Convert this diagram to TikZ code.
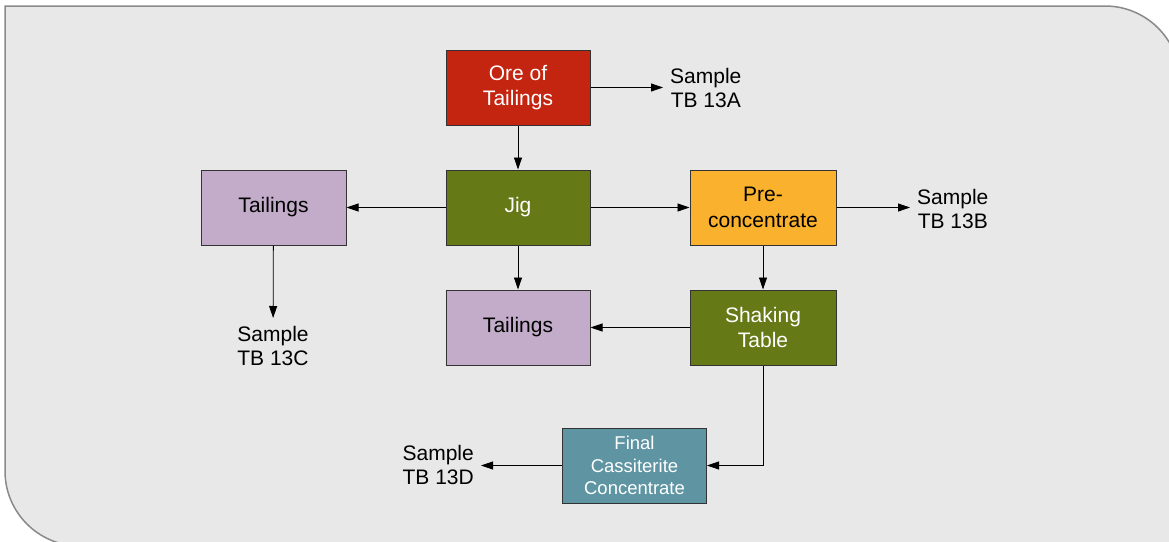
\documentclass[tikz,border=0pt]{standalone}
\usepackage{fontspec}
\setmainfont{Liberation Sans}
\usetikzlibrary{arrows.meta}
\definecolor{panelbg}{HTML}{E8E8E8}
\definecolor{panelrule}{HTML}{8A8A8A}
\definecolor{orered}{HTML}{C42510}
\definecolor{jiggreen}{HTML}{657A17}
\definecolor{lavender}{HTML}{C2ACC9}
\definecolor{amber}{HTML}{F9B12E}
\definecolor{teal}{HTML}{5F95A2}
\definecolor{edge}{HTML}{333333}
\tikzset{
  proc/.style={draw=edge, line width=1pt, minimum width=144pt, minimum height=75pt,
    align=center, font=\fontsize{21}{25.5}\selectfont, inner sep=0pt},
  label/.style={align=center, font=\fontsize{21}{24}\selectfont, inner xsep=7pt, inner ysep=2pt},
  flow/.style={draw=black, line width=0.8pt, -{Triangle[length=12pt,width=8pt]}}
}
\begin{document}
\begin{tikzpicture}[x=1pt,y=-1pt]
\useasboundingbox (0,0) rectangle (1169,541);
% panel (y axis points down, so arc angles are mirrored)
\draw[fill=panelbg, draw=panelrule, line width=1.5pt]
  (5,6) -- (1105,6) arc[start angle=-90,end angle=0,radius=75] -- (1180,546)
  -- (80,546) arc[start angle=90,end angle=180,radius=75] -- cycle;
% process boxes
\node[proc, fill=orered, text=white] (ore) at (518,87.5) {Ore of\\Tailings};
\node[proc, fill=jiggreen, text=white] (jig) at (518,207.5) {Jig};
\node[proc, fill=lavender, minimum width=145pt] (tailL) at (273.5,207.5) {Tailings};
\node[proc, fill=amber, minimum width=146pt] (pre) at (763,207.5) {Pre-\\concentrate};
\node[proc, fill=lavender] (tailM) at (518,327.5) {Tailings};
\node[proc, fill=jiggreen, text=white, minimum width=146pt] (shake) at (763,327.5) {Shaking\\Table};
\node[proc, fill=teal, text=white, font=\fontsize{18.5}{22.5}\selectfont] (final) at (634.5,465.5) {Final\\Cassiterite\\Concentrate};
% sample labels
\node[label, anchor=west] (sA) at (663,88) {Sample\\TB 13A};
\node[label, anchor=west] (sB) at (910,209) {Sample\\TB 13B};
\node[label, anchor=north, inner ysep=8pt] (sC) at (273,318) {Sample\\TB 13C};
\node[label, anchor=east] (sD) at (481,465) {Sample\\TB 13D};
\coordinate (bend) at (763,465.5);
% flows
\draw[flow] (ore.east) -- (sA.west |- ore.east);
\draw[flow] (ore) -- (jig);
\draw[flow] (jig) -- (tailL);
\draw[flow] (jig) -- (pre);
\draw[flow] (jig) -- (tailM);
\draw[flow] (tailL) -- (sC);
\draw[flow] (pre.east) -- (sB.west |- pre.east);
\draw[flow] (pre) -- (shake);
\draw[flow] (shake) -- (tailM);
\draw[flow] (shake.south) -- (bend) -- (final.east);
\draw[flow] (final) -- (sD.east |- final.west);
\end{tikzpicture}
\end{document}
